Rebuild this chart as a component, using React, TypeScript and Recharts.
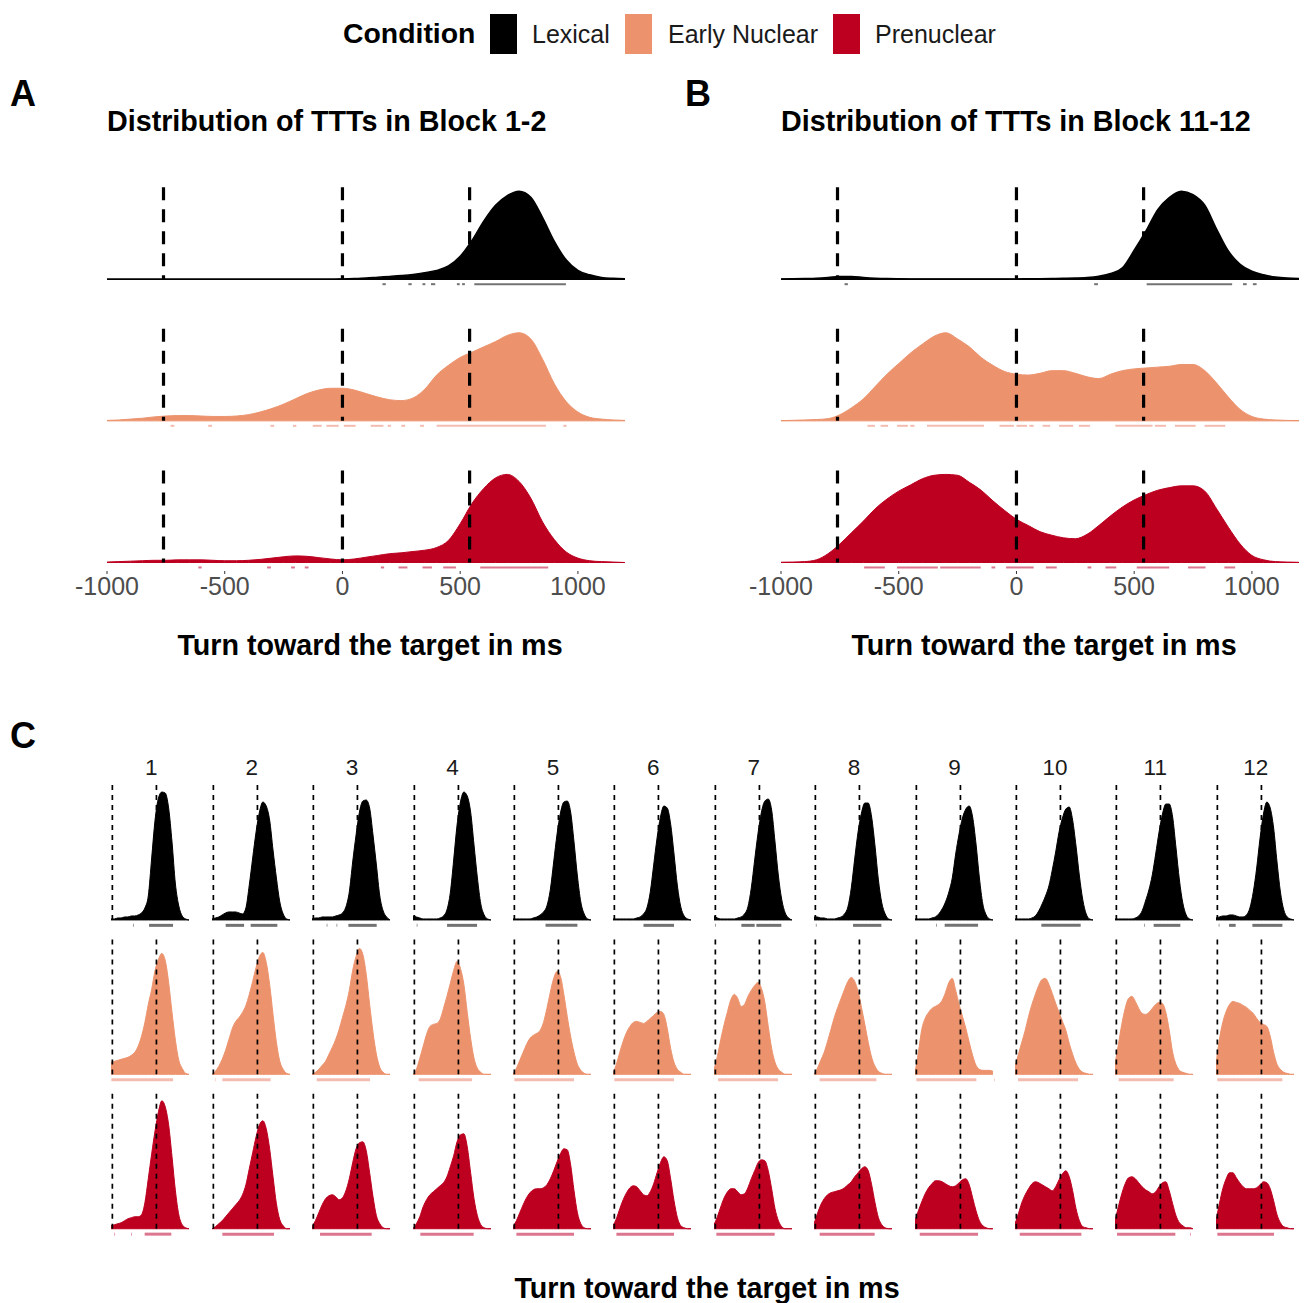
import React from "react";
import { ComposedChart, Area, XAxis, YAxis, ReferenceLine } from "recharts";

// condition names and colours
const conditions = ["Lexical", "Early Nuclear", "Prenuclear"];
const fills = ["#000000", "#ec936d", "#bd0020"];
const rugColors = ["rgba(20,20,20,0.6)", "rgba(240,165,150,0.75)", "rgba(205,60,95,0.7)"];

// x grid for panels A and B (ms)
const ridgeX = [
  -1000, -950, -900, -850, -800, -750, -700, -650, -600, -550, -500, -450, -400, -350, -300,
  -250, -200, -150, -100, -50, 0, 50, 100, 150, 200, 250, 300, 350, 400, 450, 500, 550, 600,
  650, 700, 750, 800, 850, 900, 950, 1000, 1050, 1100, 1150, 1200,
];
const ridgeTicks = [-1000, -500, 0, 500, 1000];
const markerLines = [-760, 0, 540];

// relative density (peak = 100), block 1-2
const a12Lexical = [
  0, 0, 0, 0, 0, 0, 0, 0, 0, 0, 0, 0, 0, 0, 0, 0, 0, 0, 0, 0,
  0.3, 0.7, 1.3, 2.3, 3.2, 4.2, 5.5, 7.5, 10, 15, 26, 44, 66, 84, 95, 100, 93, 70, 43, 22, 10, 5, 2, 1, 0.5,
];
const a12Early = [
  0.5, 1, 2, 3, 4.5, 5.5, 6, 6, 5.5, 5, 5, 5.5, 7, 10, 14, 19, 25, 31, 35, 37,
  37, 35, 31, 27, 24, 23, 26, 36, 52, 63, 72, 78, 84, 90, 97, 100, 93, 70, 42, 22, 10, 4, 2, 1, 0.5,
];
const a12Pre = [
  0.5, 1, 1.5, 2, 2.5, 2.5, 3, 3, 3, 2.5, 2, 2, 2.5, 3.5, 5, 6.5, 7.5, 7, 5.5, 4,
  3, 4, 6, 8, 10, 11, 12.5, 14, 17, 25, 44, 67, 84, 96, 100, 92, 73, 46, 26, 12, 5, 2, 1, 0.5, 0,
];

// relative density (peak = 100), block 11-12
const b1112Lexical = [
  0.3, 0.5, 0.8, 1.2, 2, 3, 3, 2, 1.2, 0.7, 0.5, 0.4, 0.4, 0.4, 0.4, 0.4, 0.4, 0.4, 0.4, 0.4,
  0.4, 0.5, 0.6, 0.8, 1, 1.3, 2, 3.5, 6.5, 13, 33, 55, 79, 93, 100, 96, 84, 57, 32, 17, 9, 5, 2.5, 1.3, 0.8,
];
const b1112Early = [
  0.3, 0.6, 1, 1.5, 2.5, 7, 15, 25, 39, 53, 65, 77, 87, 96, 100, 93, 84, 72, 63, 56,
  53, 52, 54, 57, 57, 54, 50, 48, 53, 57, 59, 60, 61, 62, 64, 64, 57, 43, 27, 13, 5, 2, 1, 0.5, 0.3,
];
const b1112Pre = [
  0.3, 0.5, 1, 3, 10, 21, 34, 47, 61, 72, 81, 88, 95, 99, 100, 99, 91, 82, 70, 59,
  49, 42, 35, 31, 28, 27, 32, 42, 53, 63, 71, 77, 82, 85, 87, 87, 81, 61, 40, 21, 8, 3, 1, 0.5, 0.2,
];

// rug marks [from, to] in ms
const rugA12Lexical = [[170, 180], [280, 290], [340, 348], [376, 390], [486, 494], [508, 516], [560, 945]];
const rugA12Early = [
  [-730, -718], [-570, -558], [-306, -294], [-210, -200], [-126, -92], [-68, -20], [6, 52],
  [120, 170], [192, 202], [250, 262], [330, 342], [400, 860], [938, 948],
];
const rugA12Pre = [
  [-612, -602], [-320, -308], [-218, -206], [-160, -148], [163, 173], [238, 272], [340, 376],
  [428, 478], [585, 870],
];
const rugB1112Lexical = [[-730, -720], [330, 342], [553, 912], [962, 974], [1004, 1016]];
const rugB1112Early = [
  [-633, -605], [-577, -549], [-507, -465], [-451, -437], [-380, -142], [-72, -15], [0, 41],
  [55, 69], [111, 139], [181, 237], [265, 308], [420, 574], [588, 631], [673, 757], [799, 883],
];
const rugB1112Pre = [
  [-647, -563], [-507, -338], [-324, -156], [-106, -94], [-44, 69], [125, 167], [302, 314],
  [378, 420], [511, 645], [729, 799], [883, 925],
];

// panel C: x grid (ms) and per-block densities
const blockX = [
  -800, -700, -600, -500, -400, -300, -200, -100, 0, 100, 200, 300, 400, 500, 600, 700, 800,
  900, 1000, 1100, 1200, 1300, 1400, 1500,
];
const blockNames = ["1", "2", "3", "4", "5", "6", "7", "8", "9", "10", "11", "12"];
const blockMarkers = [-760, 540];

const blockLexical = [
  [1, 1, 2, 2, 3, 3, 4, 4, 5, 7, 12, 24, 62, 100, 122, 128, 127, 112, 78, 36, 14, 4, 1, 0],
  [1, 2, 3, 5, 7, 8, 8, 8, 7, 6, 12, 35, 62, 88, 108, 118, 114, 100, 70, 42, 18, 6, 1, 0],
  [1, 2, 2, 3, 3, 3, 3, 4, 5, 7, 13, 28, 58, 85, 108, 119, 120, 112, 85, 55, 24, 9, 3, 0],
  [4, 3, 2, 1, 1, 1, 1, 1, 2, 4, 10, 27, 60, 95, 118, 128, 124, 108, 75, 42, 16, 5, 1, 0],
  [1, 1, 1, 1, 1, 1, 2, 3, 5, 8, 14, 30, 58, 86, 107, 118, 119, 108, 78, 44, 18, 6, 1, 0],
  [1, 1, 1, 1, 1, 1, 1, 2, 3, 6, 12, 28, 55, 82, 103, 114, 112, 96, 66, 34, 13, 4, 1, 0],
  [4, 2, 1, 1, 1, 1, 1, 2, 3, 6, 13, 32, 60, 87, 108, 119, 121, 110, 78, 44, 20, 7, 2, 0],
  [3, 3, 2, 2, 1, 1, 1, 2, 3, 6, 13, 32, 61, 88, 107, 117, 117, 103, 74, 40, 17, 6, 1, 0],
  [1, 1, 1, 1, 1, 2, 3, 6, 11, 18, 28, 42, 66, 86, 102, 111, 114, 103, 76, 42, 16, 5, 1, 0],
  [1, 1, 1, 1, 1, 2, 4, 9, 16, 24, 34, 50, 68, 88, 102, 111, 113, 100, 74, 44, 20, 6, 1, 0],
  [1, 1, 1, 1, 1, 1, 2, 4, 9, 19, 30, 45, 66, 88, 106, 116, 116, 103, 72, 40, 17, 5, 1, 0],
  [2, 3, 4, 4, 5, 5, 4, 3, 3, 5, 12, 28, 52, 82, 106, 118, 112, 92, 58, 28, 10, 3, 1, 0],
];
const blockEarly = [
  [12, 13, 14, 15, 16, 17, 19, 22, 28, 38, 52, 70, 85, 104, 115, 121, 114, 92, 62, 34, 14, 6, 1, 0],
  [0, 3, 8, 15, 24, 35, 46, 53, 57, 62, 69, 80, 93, 107, 118, 122, 112, 90, 60, 32, 13, 5, 1, 0],
  [0, 2, 5, 9, 13, 20, 27, 35, 45, 57, 69, 84, 104, 118, 126, 120, 100, 70, 42, 20, 7, 2, 0, 0],
  [0, 5, 16, 28, 40, 48, 50, 51, 55, 66, 78, 91, 104, 113, 106, 90, 62, 36, 16, 6, 2, 0, 0, 0],
  [0, 6, 14, 22, 30, 36, 39, 41, 44, 52, 66, 82, 96, 103, 98, 80, 58, 38, 22, 10, 4, 1, 0, 0],
  [1, 10, 22, 33, 42, 48, 52, 53, 52, 51, 53, 56, 59, 62, 63, 60, 46, 26, 12, 5, 2, 0, 0, 0],
  [5, 18, 35, 50, 63, 75, 80, 76, 68, 70, 78, 84, 89, 92, 86, 72, 48, 26, 12, 5, 2, 0, 0, 0],
  [0, 6, 14, 22, 33, 45, 57, 67, 76, 85, 93, 97, 93, 83, 67, 50, 32, 17, 8, 3, 1, 0, 0, 0],
  [2, 22, 45, 56, 62, 66, 68, 70, 74, 82, 92, 96, 84, 70, 58, 46, 32, 19, 9, 5, 4, 4, 4, 3],
  [8, 20, 32, 44, 58, 70, 80, 89, 95, 96, 90, 81, 71, 62, 53, 44, 31, 20, 11, 5, 2, 1, 0, 0],
  [10, 30, 50, 66, 76, 78, 73, 66, 61, 60, 62, 66, 70, 72, 71, 62, 44, 22, 10, 4, 2, 1, 0, 0],
  [10, 35, 52, 63, 70, 73, 72, 71, 69, 67, 64, 61, 56, 52, 50, 48, 38, 22, 10, 5, 2, 1, 0, 0],
];
const blockPre = [
  [3, 4, 5, 6, 8, 10, 11, 12, 12, 14, 26, 50, 75, 98, 117, 128, 122, 104, 72, 38, 14, 4, 1, 0],
  [0, 2, 5, 8, 12, 16, 20, 24, 28, 34, 44, 60, 76, 92, 104, 108, 100, 80, 52, 25, 9, 3, 0, 0],
  [2, 8, 16, 24, 30, 33, 34, 32, 29, 31, 38, 50, 66, 80, 86, 87, 78, 56, 32, 13, 5, 1, 0, 0],
  [0, 5, 12, 22, 29, 34, 37, 40, 43, 46, 52, 62, 73, 87, 94, 95, 82, 56, 30, 13, 4, 1, 0, 0],
  [2, 8, 16, 24, 31, 36, 39, 40, 40, 41, 44, 50, 58, 67, 75, 80, 79, 64, 38, 16, 5, 1, 0, 0],
  [3, 10, 20, 29, 36, 41, 43, 42, 38, 34, 33, 37, 45, 56, 66, 72, 68, 50, 28, 11, 3, 1, 0, 0],
  [4, 12, 22, 31, 37, 40, 40, 37, 34, 35, 41, 50, 58, 66, 69, 68, 58, 40, 20, 8, 2, 0, 0, 0],
  [5, 15, 24, 30, 34, 36, 37, 38, 39, 41, 44, 47, 52, 56, 60, 62, 58, 44, 26, 11, 4, 1, 0, 0],
  [8, 18, 27, 35, 41, 45, 48, 48, 47, 45, 43, 42, 43, 46, 49, 50, 44, 31, 18, 8, 3, 1, 0, 0],
  [5, 15, 26, 34, 40, 45, 47, 46, 44, 42, 40, 38, 42, 49, 55, 58, 52, 38, 20, 8, 2, 1, 0, 0],
  [8, 22, 35, 45, 51, 52, 50, 46, 42, 39, 37, 35, 37, 42, 46, 47, 38, 25, 13, 6, 3, 1, 1, 0],
  [8, 25, 40, 50, 56, 56, 51, 46, 42, 40, 40, 40, 41, 44, 47, 46, 40, 28, 14, 6, 2, 1, 0, 0],
];

const blockRugLexical = [
  [[-150, -130], [323, 1030]],
  [[-397, 146], [340, 1128]],
  [[-367, -347], [-75, -55], [273, 1108]],
  [[-690, -670], [205, 1090]],
  [[160, 1100]],
  [[100, 1000]],
  [[-770, -750], [7, 400], [450, 1187]],
  [[-745, -725], [352, 1187]],
  [[-180, -160], [75, 1060]],
  [[-22, 1137]],
  [[66, 86], [340, 1128]],
  [[-720, -700], [-415, -220], [273, 1158]],
];
const blockRugEarly = [
  [[-790, 1030]],
  [[-700, -680], [-495, 930]],
  [[-660, 912]],
  [[-633, 942]],
  [[-760, 1000]],
  [[-760, 1000]],
  [[-680, 1090]],
  [[-633, 1040]],
  [[-760, 1010], [1530, 1550]],
  [[-710, 1060]],
  [[-692, 930]],
  [[-760, 1158]],
];
const blockRugPre = [
  [[-700, -680], [-200, -180], [193, 980]],
  [[-495, 1030]],
  [[-563, 960]],
  [[-583, 990]],
  [[-700, 1000]],
  [[-700, 1000]],
  [[-730, 990]],
  [[-633, 990]],
  [[-660, 1060]],
  [[-660, 1158]],
  [[-740, 980], [1420, 1440]],
  [[-760, 912]],
];

const FONT = "'Liberation Sans', Arial, Helvetica, sans-serif";
const rowKeys = ["lex", "early", "pre"];

function buildRows(xs: number[], series: number[][], scale: number) {
  return xs.map((x, i) => {
    const row: any = { x };
    series.forEach((s, k) => {
      const base = 2 - k;
      row[rowKeys[k]] = [base, base + s[i] * scale];
    });
    return row;
  });
}

const PEAK_AB = 0.622 / 100;
const DASH_AB = 0.65;

const RidgePanel = (props: any) => {
  const { left, series, rugs } = props;
  const data = buildRows(ridgeX, series, PEAK_AB);
  return (
    <div style={{ position: "absolute", left: left - 45, top: 163 }}>
      <ComposedChart width={608} height={448} data={data} margin={{ top: 10, right: 45, bottom: 0, left: 45 }}>
        <XAxis
          dataKey="x"
          type="number"
          domain={[-1000, 1200]}
          ticks={ridgeTicks}
          allowDataOverflow
          axisLine={false}
          tickSize={3}
          tickMargin={3}
          tickLine={{ stroke: "#333333" }}
          tick={{ fill: "#4d4d4d", fontSize: 25 }}
          height={40}
          interval={0}
        />
        <YAxis type="number" domain={[-0.06, 2.75]} hide allowDataOverflow />
        {rowKeys.map((key, k) => (
          <Area
            key={key}
            dataKey={key}
            type="monotone"
            fill={fills[k]}
            fillOpacity={1}
            stroke={fills[k]}
            strokeWidth={k === 0 ? 1.5 : 1}
            dot={false}
            activeDot={false}
            isAnimationActive={false}
          />
        ))}
        {rowKeys.map((key, k) =>
          markerLines.map((m) => (
            <ReferenceLine
              key={key + "d" + m}
              segment={[{ x: m, y: 2 - k + DASH_AB }, { x: m, y: 2 - k }]}
              stroke="#000000"
              strokeWidth={3.2}
              strokeDasharray="13 9"
            />
          ))
        )}
        {rowKeys.map((key, k) =>
          rugs[k].map((r: number[], j: number) => (
            <ReferenceLine
              key={key + "r" + j}
              segment={[{ x: r[0], y: 2 - k - 0.035 }, { x: r[1] + 4, y: 2 - k - 0.035 }]}
              stroke={rugColors[k]}
              strokeWidth={2}
            />
          ))
        )}
      </ComposedChart>
    </div>
  );
};

const PX_C = 1 / 154.5;
const DASH_C = 0.874;

const BlockColumn = (props: any) => {
  const { k } = props;
  const data = buildRows(blockX, [blockLexical[k], blockEarly[k], blockPre[k]], PX_C);
  const rugs = [blockRugLexical[k], blockRugEarly[k], blockRugPre[k]];
  const left = 111.3 + 100.4 * k;
  return (
    <>
      <div
        style={{
          position: "absolute",
          left: left,
          width: 80,
          top: 768 - 11,
          fontSize: 22.5,
          lineHeight: "22px",
          textAlign: "center",
          color: "#1a1a1a",
        }}
      >
        {blockNames[k]}
      </div>
      <div style={{ position: "absolute", left: left, top: 776 }}>
        <ComposedChart width={80} height={467} data={data} margin={{ top: 5, right: 0, bottom: 5, left: 0 }}>
          <XAxis dataKey="x" type="number" domain={[-800, 1560]} hide allowDataOverflow />
          <YAxis type="number" domain={[-0.06, 2.9]} hide allowDataOverflow />
          {rowKeys.map((key, r) => (
            <Area
              key={key}
              dataKey={key}
              type="monotone"
              fill={fills[r]}
              fillOpacity={1}
              stroke={fills[r]}
              strokeWidth={1}
              dot={false}
              activeDot={false}
              isAnimationActive={false}
            />
          ))}
          {rowKeys.map((key, r) =>
            blockMarkers.map((m) => (
              <ReferenceLine
                key={key + "d" + m}
                segment={[{ x: m, y: 2 - r + DASH_C }, { x: m, y: 2 - r }]}
                stroke="#000000"
                strokeWidth={1.7}
                strokeDasharray="5 5"
              />
            ))
          )}
          {rowKeys.map((key, r) =>
            rugs[r].map((s: number[], j: number) => (
              <ReferenceLine
                key={key + "r" + j}
                segment={[{ x: s[0], y: 2 - r - 0.035 }, { x: s[1], y: 2 - r - 0.035 }]}
                stroke={rugColors[r]}
                strokeWidth={3}
              />
            ))
          )}
        </ComposedChart>
      </div>
    </>
  );
};

const Text = (props: any) => {
  const { x, cy, size, bold, children, center, width } = props;
  return (
    <div
      style={{
        position: "absolute",
        left: center ? x - (width || 600) / 2 : x,
        width: center ? width || 600 : undefined,
        top: cy - size * 0.5,
        fontSize: size,
        lineHeight: size + "px",
        fontWeight: bold ? 700 : 400,
        textAlign: center ? "center" : "left",
        whiteSpace: "nowrap",
        color: props.color || "#000000",
      }}
    >
      {children}
    </div>
  );
};

const legendKeys = [490, 625, 833];
const legendLabels = [532, 668, 875];

export default function App() {
  return (
    <div
      style={{
        position: "absolute",
        left: 0,
        top: 0,
        width: 1304,
        height: 1303,
        overflow: "hidden",
        background: "#ffffff",
        fontFamily: FONT,
      }}
    >
      <Text x={343} cy={33} size={28.4} bold>
        Condition
      </Text>
      {conditions.map((c, i) => (
        <React.Fragment key={c}>
          <div
            style={{ position: "absolute", left: legendKeys[i], top: 14, width: 27, height: 40, background: fills[i] }}
          />
          <Text x={legendLabels[i]} cy={34} size={25} color="#1a1a1a">
            {c}
          </Text>
        </React.Fragment>
      ))}

      <Text x={10} cy={94} size={36} bold>
        A
      </Text>
      <Text x={685} cy={94} size={36} bold>
        B
      </Text>
      <Text x={10} cy={736} size={36} bold>
        C
      </Text>

      <Text x={107} cy={121} size={28.7} bold>
        Distribution of TTTs in Block 1-2
      </Text>
      <Text x={781} cy={121} size={28.7} bold>
        Distribution of TTTs in Block 11-12
      </Text>

      <RidgePanel left={107} series={[a12Lexical, a12Early, a12Pre]} rugs={[rugA12Lexical, rugA12Early, rugA12Pre]} />
      <RidgePanel
        left={781}
        series={[b1112Lexical, b1112Early, b1112Pre]}
        rugs={[rugB1112Lexical, rugB1112Early, rugB1112Pre]}
      />

      <Text x={370} cy={645} size={28.7} bold center>
        Turn toward the target in ms
      </Text>
      <Text x={1044} cy={645} size={28.7} bold center>
        Turn toward the target in ms
      </Text>

      {blockNames.map((b, k) => (
        <BlockColumn key={b} k={k} />
      ))}

      <Text x={707} cy={1288} size={28.7} bold center>
        Turn toward the target in ms
      </Text>
    </div>
  );
}
